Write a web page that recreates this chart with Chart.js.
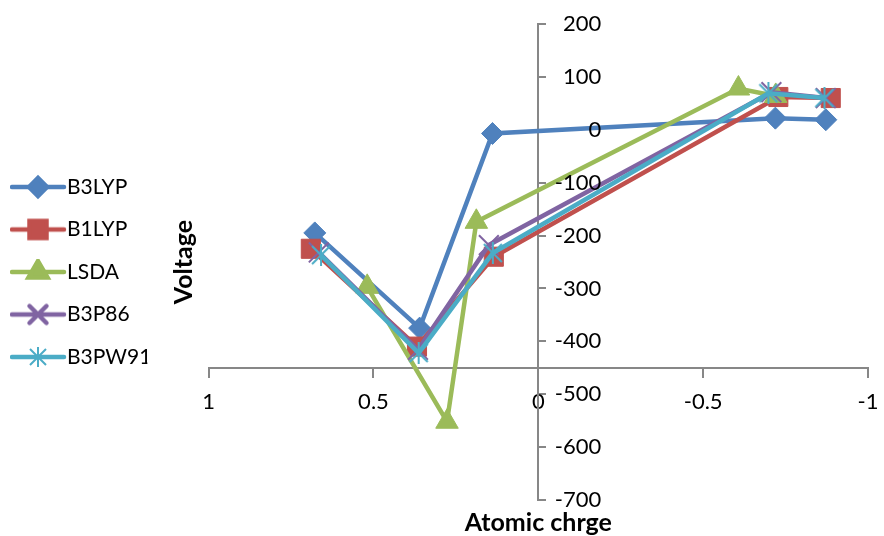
<!DOCTYPE html>
<html><head><meta charset="utf-8">
<script src="https://cdn.jsdelivr.net/npm/chart.js@4/dist/chart.umd.min.js"></script>
<style>html,body{margin:0;padding:0;background:#fff;}#wrap{width:884px;height:536px;}</style>
</head><body><div id="wrap"><canvas id="c" width="884" height="536"></canvas></div>
<script>
// ---- data ----
const seriesNames = ['B3LYP', 'B1LYP', 'LSDA', 'B3P86', 'B3PW91'];
const b3lypX  = [0.678, 0.360, 0.139, -0.719, -0.872];
const b3lypY  = [-195, -375, -7, 22, 19];
const b1lypX  = [0.690, 0.368, 0.135, -0.728, -0.887];
const b1lypY  = [-225, -410, -240, 62, 60];
const lsdaX   = [0.519, 0.277, 0.188, -0.607, -0.720];
const lsdaY   = [-297, -552, -174, 78, 64];
const b3p86X  = [0.666, 0.365, 0.150, -0.707, -0.872];
const b3p86Y  = [-232, -416, -218, 71, 60];
const b3pw91X = [0.659, 0.363, 0.138, -0.698, -0.868];
const b3pw91Y = [-237, -422, -233, 69, 60];
const xTickValues = [1, 0.5, 0, -0.5, -1];
const yTickValues = [200, 100, 0, -100, -200, -300, -400, -500, -600, -700];
const xAxisTitle = 'Atomic chrge';
const yAxisTitle = 'Voltage';
const xAxisCrossesAtY = -450;
const yAxisCrossesAtX = 0;

// ---- styles ----
const colors = ['#4F81BD', '#C0504D', '#9BBB59', '#8064A2', '#4BACC6'];
const FONT = 'Lato';
Chart.defaults.font.family = FONT;
Chart.defaults.color = '#000';

function starCanvas(color, s) {
  const c = document.createElement('canvas');
  c.width = s; c.height = s;
  const g = c.getContext('2d');
  g.strokeStyle = color; g.lineWidth = 2;
  g.beginPath();
  g.moveTo(2, 2); g.lineTo(s - 2, s - 2);
  g.moveTo(s - 2, 2); g.lineTo(2, s - 2);
  g.moveTo(s / 2, 0); g.lineTo(s / 2, s);
  g.stroke();
  return c;
}
const cyanStar = starCanvas(colors[4], 22);
const cyanStarSmall = starCanvas(colors[4], 20);

const markerStyles = ['rectRot', 'rect', 'triangle', 'crossRot', cyanStar];
const markerRadii = [11, 13.5, 13, 14, 11];
const markerBorder = [1, 1, 1, 2, 2];

function legendImage(i) {
  const c = document.createElement('canvas');
  c.width = 58; c.height = 26;
  const g = c.getContext('2d');
  g.strokeStyle = colors[i]; g.lineWidth = 4.5; g.lineCap = 'round';
  g.beginPath(); g.moveTo(2, 13); g.lineTo(54, 13); g.stroke();
  g.fillStyle = colors[i]; g.strokeStyle = colors[i];
  const legendStyles = ['rectRot', 'rect', 'triangle', 'crossRot', cyanStarSmall];
  const legendRadii = [9, 12, 11, 12, 10];
  Chart.helpers.drawPoint(g, {pointStyle: legendStyles[i], radius: legendRadii[i], borderWidth: markerBorder[i], rotation: 0}, 28, 13);
  return c;
}

const xs = [b3lypX, b1lypX, lsdaX, b3p86X, b3pw91X];
const ys = [b3lypY, b1lypY, lsdaY, b3p86Y, b3pw91Y];
const datasets = seriesNames.map((name, i) => ({
  label: name,
  data: xs[i].map((x, k) => ({x: x, y: ys[i][k]})),
  borderColor: colors[i],
  backgroundColor: colors[i],
  borderWidth: 4.5,
  pointStyle: markerStyles[i],
  pointRadius: markerRadii[i],
  pointBorderWidth: markerBorder[i],
  pointBackgroundColor: colors[i],
  pointBorderColor: colors[i],
  tension: 0,
  order: seriesNames.length - i,
  clip: false
}));

const yTickLabelPlugin = {
  id: 'yTickLabels',
  afterDatasetsDraw(chart) {
    const sy = chart.scales.y, sx = chart.scales.x, ctx = chart.ctx;
    const x0 = sx.getPixelForValue(yAxisCrossesAtX);
    ctx.save();
    ctx.font = '22px ' + FONT;
    ctx.fillStyle = '#000';
    ctx.textAlign = 'right';
    ctx.textBaseline = 'middle';
    sy.ticks.forEach(t => ctx.fillText(String(t.value), x0 + 63, sy.getPixelForValue(t.value)));
    ctx.restore();
  }
};

function build() {
  new Chart(document.getElementById('c'), {
    type: 'line',
    data: {datasets},
    plugins: [yTickLabelPlugin],
    options: {
      responsive: false,
      animation: false,
      events: [],
      layout: {padding: {left: 0, top: 24, right: 0, bottom: 0}},
      scales: {
        x: {
          type: 'linear',
          reverse: true,
          min: -1, max: 1,
          position: {y: xAxisCrossesAtY},
          afterBuildTicks: s => { s.ticks = xTickValues.map(v => ({value: v})); },
          ticks: {font: {size: 22, lineHeight: 2.3}, color: '#000', padding: 0, maxRotation: 0,
                  callback: v => String(v)},
          grid: {drawOnChartArea: false, drawTicks: true, tickLength: 9, color: '#878787', lineWidth: 2},
          border: {display: true, color: '#878787', width: 2}
        },
        y: {
          type: 'linear',
          min: -700, max: 200,
          position: {x: yAxisCrossesAtX},
          afterBuildTicks: s => { s.ticks = yTickValues.map(v => ({value: v})); },
          ticks: {display: false},
          grid: {drawOnChartArea: false, drawTicks: true, tickLength: -9, color: '#878787', lineWidth: 2},
          border: {display: true, color: '#878787', width: 2}
        }
      },
      plugins: {
        tooltip: {enabled: false},
        legend: {
          display: true,
          position: 'left',
          fullSize: false,
          weight: 1000,
          title: {display: true, text: '', font: {size: 10}, padding: {top: 4, bottom: 4}},
          labels: {
            usePointStyle: true,
            pointStyleWidth: 35,
            padding: 21.5,
            font: {size: 21},
            color: '#000',
            generateLabels: chart => chart.data.datasets.map((ds, i) => ({
              text: ds.label,
              pointStyle: legendImage(i),
              fillStyle: colors[i],
              strokeStyle: colors[i],
              lineWidth: 0,
              hidden: false,
              datasetIndex: i,
              fontColor: '#000'
            }))
          }
        },
        title: {
          display: true,
          text: yAxisTitle,
          position: 'left',
          fullSize: false,
          weight: 500,
          color: '#000',
          font: {size: 25, weight: 'bold', lineHeight: 1.2},
          padding: {top: 21.3, bottom: 10}
        },
        subtitle: {
          display: true,
          text: xAxisTitle,
          position: 'bottom',
          fullSize: false,
          color: '#000',
          font: {size: 25, weight: 'bold', lineHeight: 1.0},
          padding: {top: 10.5, bottom: 0.5}
        }
      }
    }
  });
}
if (document.fonts && document.fonts.load) {
  Promise.all([document.fonts.load('22px Lato'), document.fonts.load('bold 25px Lato')]).then(build, build);
} else { build(); }
</script>
</body></html>
